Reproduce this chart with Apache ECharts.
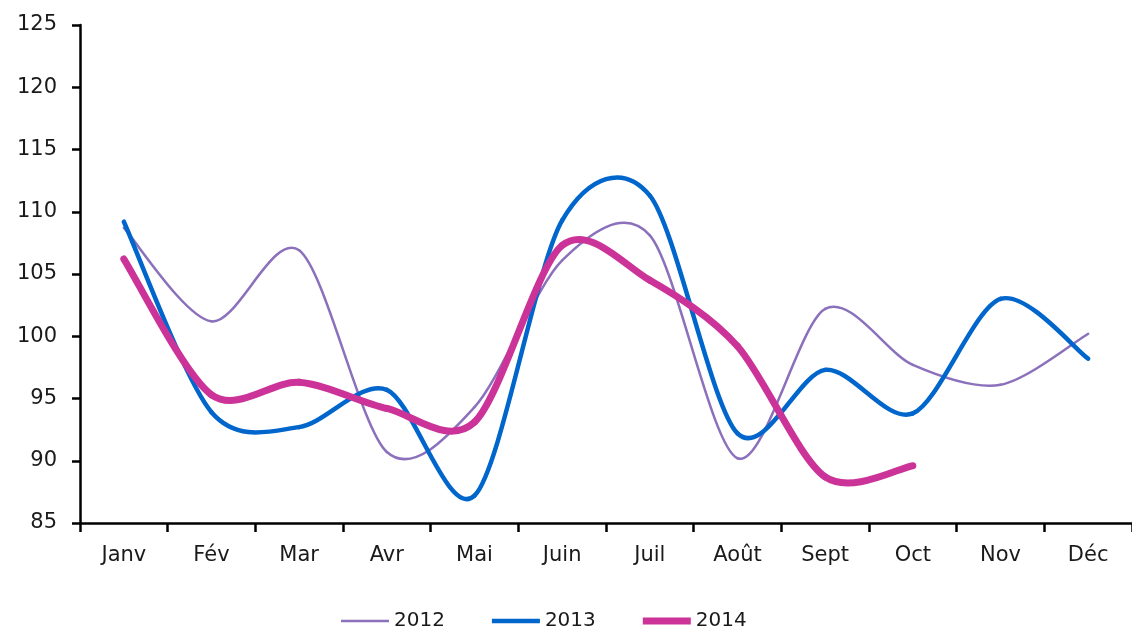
<!DOCTYPE html>
<html>
<head>
<meta charset="utf-8">
<script src="https://cdn.jsdelivr.net/npm/echarts@6/dist/echarts.min.js"></script>
<style>
html,body{margin:0;padding:0;background:#fff;}
#chart{width:1132px;height:628px;}
</style>
</head>
<body>
<div id="chart"></div>
<script>
var months = ['Janv','Fév','Mar','Avr','Mai','Juin','Juil','Août','Sept','Oct','Nov','Déc'];
var seriesNames = ['2012','2013','2014'];
var values2012 = [108.7, 101.2, 106.9, 90.7, 94.3, 106.1, 108.1, 90.2, 102.2, 97.7, 96.1, 100.2];
var values2013 = [109.2, 93.9, 92.7, 95.7, 87.2, 109.3, 111.3, 92.2, 97.3, 93.8, 103.0, 98.2];
var values2014 = [106.2, 95.3, 96.3, 94.2, 93.1, 107.3, 104.5, 99.2, 88.7, 89.6];
var yMin = 85, yMax = 125, yStep = 5;

var colors = ['#8b70bb', '#0066cc', '#cc3399'];
var widths = [2.5, 4.5, 7];
var allValues = [values2012, values2013, values2014];
var tension = 0.15;

var font = 'DejaVu Sans';
var textColor = '#1a1a1a';

function smoothSeries(name, values, color, width, z) {
  return {
    name: name,
    type: 'custom',
    z: z,
    itemStyle: {color: color},
    data: values.map(function (v, i) { return [i, v]; }),
    encode: {x: 0, y: 1},
    renderItem: function (params, api) {
      var i = params.dataIndex;
      var n = values.length;
      if (i >= n - 1) { return {type: 'group', children: []}; }
      function pt(k) {
        k = Math.max(0, Math.min(n - 1, k));
        return api.coord([k, values[k]]);
      }
      var p0 = pt(i - 1), p1 = pt(i), p2 = pt(i + 1), p3 = pt(i + 2);
      return {
        type: 'bezierCurve',
        shape: {
          x1: p1[0], y1: p1[1], x2: p2[0], y2: p2[1],
          cpx1: p1[0] + (p2[0] - p0[0]) * tension,
          cpy1: p1[1] + (p2[1] - p0[1]) * tension,
          cpx2: p2[0] - (p3[0] - p1[0]) * tension,
          cpy2: p2[1] - (p3[1] - p1[1]) * tension
        },
        style: {stroke: color, lineWidth: width, fill: null, lineCap: 'round'}
      };
    }
  };
}

var chart = echarts.init(document.getElementById('chart'), null, {renderer: 'canvas'});
chart.setOption({
  animation: false,
  backgroundColor: '#ffffff',
  textStyle: {fontFamily: font},
  grid: {left: 80, right: 0, top: 25, bottom: 105, containLabel: false},
  legend: {
    left: 336,
    top: 606,
    itemWidth: 48,
    itemHeight: 20,
    itemGap: 47,
    symbolKeepAspect: true,
    textStyle: {fontFamily: font, fontSize: 20, color: textColor},
    data: seriesNames.map(function (n, i) {
      return {name: n, icon: 'path://M0,0H48V' + widths[i] + 'H0Z', itemStyle: {color: colors[i]}};
    })
  },
  xAxis: {
    type: 'category',
    data: months,
    boundaryGap: true,
    axisLine: {lineStyle: {color: '#000', width: 2.5}},
    axisTick: {show: true, length: 9, lineStyle: {color: '#000', width: 2.5}},
    axisLabel: {fontFamily: font, fontSize: 21, color: textColor, margin: 22}
  },
  yAxis: {
    type: 'value',
    min: yMin,
    max: yMax,
    interval: yStep,
    axisLine: {show: true, lineStyle: {color: '#000', width: 2.5}},
    axisTick: {show: true, length: 8, lineStyle: {color: '#000', width: 2.5}},
    splitLine: {show: false},
    axisLabel: {fontFamily: font, fontSize: 21, color: textColor, margin: 23}
  },
  series: seriesNames.map(function (n, i) {
    return smoothSeries(n, allValues[i], colors[i], widths[i], 2 + i);
  })
});
</script>
</body>
</html>
